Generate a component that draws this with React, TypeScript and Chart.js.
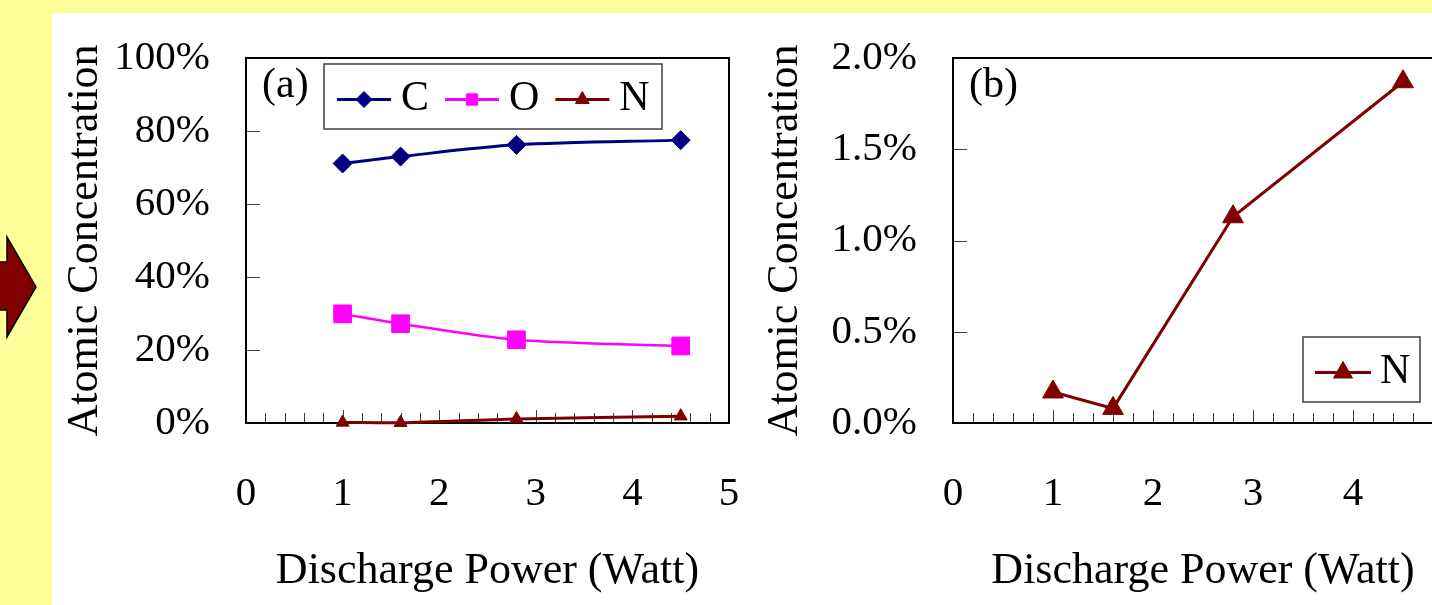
import React, { useEffect, useRef } from "react";
import { Chart, registerables } from "chart.js";

Chart.register(...registerables);

// ---------- data ----------
const powerWatts = [1.0, 1.6, 2.8, 4.5];
const carbonPct = [71.1, 73.0, 76.2, 77.5];
const oxygenPct = [29.9, 27.2, 22.8, 21.1];
const nitrogenPct = [0.17, 0.08, 1.13, 1.87];
const seriesNames = ["C", "O", "N"];
const xTitleText = "Discharge Power (Watt)";
const yTitleText = "Atomic Concentration";
const panelLabels = ["(a)", "(b)"];

// ---------- styles ----------
const FONT = "'Liberation Serif', 'Times New Roman', serif";
const NAVY = "#000080";
const MAGENTA = "#FF00FF";
const DARKRED = "#800000";

Chart.defaults.font.family = FONT;
Chart.defaults.color = "#000";

function drawMarker(ctx: CanvasRenderingContext2D, style: string, x: number, y: number, r: number, color: string) {
  ctx.beginPath();
  if (style === "rectRot") {
    ctx.moveTo(x - r, y);
    ctx.lineTo(x, y - r);
    ctx.lineTo(x + r, y);
    ctx.lineTo(x, y + r);
  } else if (style === "rect") {
    const s = r * Math.SQRT1_2;
    ctx.rect(x - s, y - s, 2 * s, 2 * s);
  } else {
    for (let k = 0; k < 3; k++) {
      const a = (k * 2 * Math.PI) / 3;
      const px = x + Math.sin(a) * r;
      const py = y - Math.cos(a) * r;
      if (k === 0) ctx.moveTo(px, py);
      else ctx.lineTo(px, py);
    }
  }
  ctx.closePath();
  ctx.fillStyle = color;
  ctx.fill();
  ctx.lineWidth = 1;
  ctx.strokeStyle = color;
  ctx.stroke();
}

type DecorCfg = {
  label: string;
  yTickLen: number;
  legend: { x: number; y: number; w: number; h: number; lineStart: number; lineLen: number; textGap: number; itemGap: number; radii: number[] };
};

function makeDecor(cfg: DecorCfg) {
  return {
    id: "decor",
    beforeDatasetsDraw(chart: any) {
      const { ctx, chartArea: ca, scales } = chart;
      const xs = scales.x;
      const ys = scales.y;
      ctx.save();
      ctx.strokeStyle = "#404040";
      ctx.lineWidth = 1;
      for (let k = 1; k < 25; k++) {
        const v = k * 0.2;
        const major = Math.abs(v - Math.round(v)) < 1e-6;
        const px = Math.round(xs.getPixelForValue(v)) + 0.5;
        ctx.beginPath();
        ctx.moveTo(px, ca.bottom);
        ctx.lineTo(px, ca.bottom - (major ? 13 : 10));
        ctx.stroke();
      }
      ys.ticks.forEach((t: any) => {
        if (t.value <= ys.min || t.value >= ys.max) return;
        const py = Math.round(ys.getPixelForValue(t.value)) + 0.5;
        ctx.beginPath();
        ctx.moveTo(ca.left, py);
        ctx.lineTo(ca.left + cfg.yTickLen, py);
        ctx.stroke();
      });
      ctx.strokeStyle = "#000";
      ctx.lineWidth = 2;
      ctx.strokeRect(ca.left, ca.top, ca.right - ca.left, ca.bottom - ca.top);
      ctx.restore();
    },
    afterDraw(chart: any) {
      const { ctx, chartArea: ca } = chart;
      ctx.save();
      ctx.font = `42px ${FONT}`;
      ctx.fillStyle = "#000";
      ctx.textAlign = "left";
      ctx.textBaseline = "middle";
      ctx.fillText(cfg.label, ca.left + 16, ca.top + 28);
      const L = cfg.legend;
      const bx = ca.left + L.x;
      const by = ca.top + L.y;
      ctx.fillStyle = "#fff";
      ctx.fillRect(bx, by, L.w, L.h);
      ctx.strokeStyle = "#404040";
      ctx.lineWidth = 1.5;
      ctx.strokeRect(bx, by, L.w, L.h);
      let cx = bx + L.lineStart;
      const lineY = by + L.h / 2 + 3;
      const textY = by + L.h / 2 + 2;
      chart.data.datasets.forEach((ds: any, i: number) => {
        ctx.strokeStyle = ds.borderColor;
        ctx.lineWidth = 3;
        ctx.beginPath();
        ctx.moveTo(cx, lineY);
        ctx.lineTo(cx + L.lineLen, lineY);
        ctx.stroke();
        drawMarker(ctx, ds.pointStyle, cx + L.lineLen / 2, lineY, L.radii[i], ds.borderColor);
        const tx = cx + L.lineLen + L.textGap;
        ctx.fillStyle = "#000";
        ctx.font = `42px ${FONT}`;
        ctx.fillText(ds.label, tx, textY);
        cx = tx + ctx.measureText(ds.label).width + L.itemGap;
      });
      ctx.restore();
    },
  };
}

function pts(ys: number[]) {
  return powerWatts.map((p, i) => ({ x: p, y: ys[i] }));
}

function zeroPad(s: any) {
  s.paddingTop = 0;
  s.paddingBottom = 0;
  s.paddingLeft = 0;
  s.paddingRight = 0;
}

function xScale() {
  return {
    type: "linear",
    min: 0,
    max: 5,
    ticks: { stepSize: 1, color: "#000", font: { family: FONT, size: 41 }, padding: 47 },
    grid: { display: false, drawTicks: false },
    border: { display: false },
    title: { display: true, text: xTitleText, color: "#000", font: { family: FONT, size: 44 }, padding: { top: 0, bottom: 7 } },
    afterFit: (s: any) => {
      s.height = 182;
      zeroPad(s);
    },
  };
}

function yScale(max: number, step: number, fmt: (v: number) => string, width: number) {
  return {
    type: "linear",
    min: 0,
    max,
    ticks: { stepSize: step, color: "#000", font: { family: FONT, size: 41 }, padding: 36, callback: (v: any) => fmt(Number(v)) },
    grid: { display: false, drawTicks: false },
    border: { display: false },
    title: { display: true, text: yTitleText, color: "#000", font: { family: FONT, size: 44 }, padding: { top: 7, bottom: 0 } },
    afterFit: (s: any) => {
      s.width = width;
      zeroPad(s);
    },
  };
}

export default function App() {
  const refA = useRef<HTMLCanvasElement>(null);
  const refB = useRef<HTMLCanvasElement>(null);

  useEffect(() => {
    const a = new Chart(refA.current as HTMLCanvasElement, {
      type: "line",
      data: {
        datasets: [
          { label: seriesNames[0], data: pts(carbonPct), borderColor: NAVY, backgroundColor: NAVY, borderWidth: 3, pointStyle: "rectRot", pointRadius: 9.5, pointBorderWidth: 1, tension: 0.3, clip: false },
          { label: seriesNames[1], data: pts(oxygenPct), borderColor: MAGENTA, backgroundColor: MAGENTA, borderWidth: 2.5, pointStyle: "rect", pointRadius: 12.5, pointBorderWidth: 1, tension: 0.3, clip: false },
          { label: seriesNames[2], data: pts(nitrogenPct), borderColor: DARKRED, backgroundColor: DARKRED, borderWidth: 3, pointStyle: "triangle", pointRadius: 7.5, pointBorderWidth: 1, tension: 0.3, clip: false },
        ],
      } as any,
      options: {
        responsive: false,
        animation: false,
        layout: { padding: { top: 45, right: 23, left: 0, bottom: 0 } },
        plugins: { legend: { display: false }, tooltip: { enabled: false } },
        scales: { x: xScale(), y: yScale(100, 20, (v) => `${v}%`, 194) } as any,
      },
      plugins: [
        makeDecor({
          label: panelLabels[0],
          yTickLen: 14,
          legend: { x: 78, y: 6, w: 338, h: 65, lineStart: 13, lineLen: 54, textGap: 10, itemGap: 16, radii: [8, 8, 8] },
        }),
      ],
    } as any);

    const b = new Chart(refB.current as HTMLCanvasElement, {
      type: "line",
      data: {
        datasets: [
          { label: seriesNames[2], data: pts(nitrogenPct), borderColor: DARKRED, backgroundColor: DARKRED, borderWidth: 3, pointStyle: "triangle", pointRadius: 12, pointBorderWidth: 1, tension: 0, clip: false },
        ],
      } as any,
      options: {
        responsive: false,
        animation: false,
        layout: { padding: { top: 45, right: 29, left: 0, bottom: 0 } },
        plugins: { legend: { display: false }, tooltip: { enabled: false } },
        scales: { x: xScale(), y: yScale(2, 0.5, (v) => `${v.toFixed(1)}%`, 201) } as any,
      },
      plugins: [
        makeDecor({
          label: panelLabels[1],
          yTickLen: 14,
          legend: { x: 350, y: 279, w: 117, h: 65, lineStart: 12, lineLen: 56, textGap: 9, itemGap: 16, radii: [11] },
        }),
      ],
    } as any);

    return () => {
      a.destroy();
      b.destroy();
    };
  }, []);

  return (
    <div style={{ position: "fixed", left: 0, top: 0, width: 1432, height: 605, overflow: "hidden", background: "#FFFF99" }}>
      <svg width={60} height={605} style={{ position: "absolute", left: 0, top: 0 }}>
        <polygon points="-5,262 7,262 7,237 36,287 7,337 7,310 -5,310" fill="#800000" stroke="#000" strokeWidth={1.5} />
      </svg>
      <div style={{ position: "absolute", left: 52, top: 13, right: 0, bottom: 0, background: "#fff" }} />
      <canvas ref={refA} width={700} height={592} style={{ position: "absolute", left: 52, top: 13 }} />
      <canvas ref={refB} width={730} height={592} style={{ position: "absolute", left: 752, top: 13 }} />
    </div>
  );
}
